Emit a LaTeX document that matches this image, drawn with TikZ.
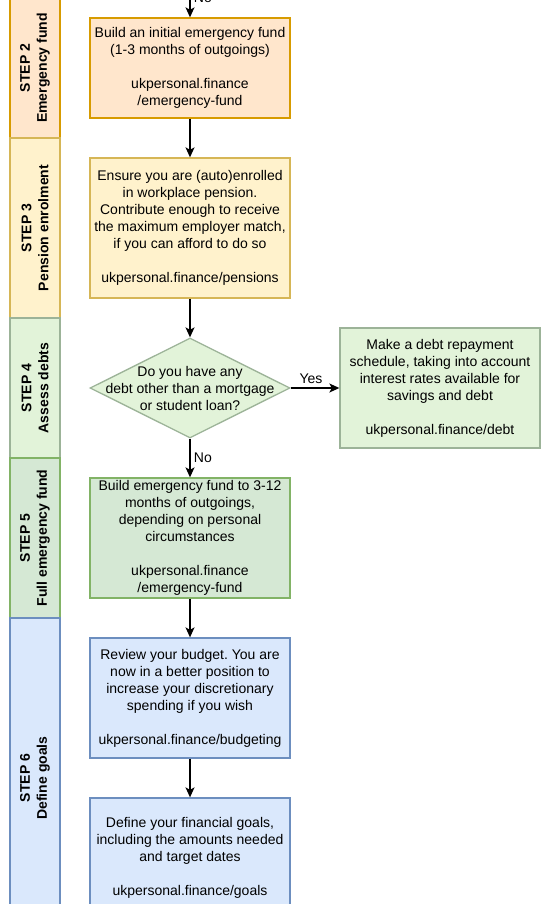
\documentclass[tikz,border=0pt]{standalone}
\usepackage{fontspec}
\setmainfont{Liberation Sans}
\usetikzlibrary{calc, shapes, arrows.meta}
\definecolor{orangeFill}{HTML}{FFE6CC}
\definecolor{orangeLine}{HTML}{D79B00}
\definecolor{yellowFill}{HTML}{FFF2CC}
\definecolor{yellowLine}{HTML}{D6B656}
\definecolor{paleGreenFill}{HTML}{E2F3D9}
\definecolor{paleGreenLine}{HTML}{9CB398}
\definecolor{greenFill}{HTML}{D5E8D4}
\definecolor{greenLine}{HTML}{82B366}
\definecolor{blueFill}{HTML}{DAE8FC}
\definecolor{blueLine}{HTML}{6C8EBF}
\frenchspacing

\begin{document}
\begin{tikzpicture}[x=1pt, y=-1pt,
	every node/.style={font=\fontsize{14}{17}\selectfont},
	box/.style={draw, rectangle, line width=1.3pt, minimum width=200pt, inner sep=0pt, align=center},
	decision/.style={draw, diamond, line width=1.3pt, minimum width=200pt, minimum height=100pt, inner sep=0pt},
	lane/.style={line width=1.3pt},
	lanelabel/.style={rotate=90, align=center, font=\bfseries\fontsize{14}{17}\selectfont},
	flow/.style={line width=1.3pt, -{Stealth[length=10pt, width=9pt, inset=2.5pt]}}]
				\useasboundingbox (0,0) rectangle (559,904);
				\clip (0,0) rectangle (559,904);
				%Lanes on the left
				\draw [lane, fill=orangeFill, draw=orangeLine] (10,-2) rectangle (60,138);
				\draw [lane, fill=yellowFill, draw=yellowLine] (10,138) rectangle (60,318);
				\draw [lane, fill=paleGreenFill, draw=paleGreenLine] (10,318) rectangle (60,458);
				\draw [lane, fill=greenFill, draw=greenLine] (10,458) rectangle (60,618);
				\draw [lane, fill=blueFill, draw=blueLine] (10,618) rectangle (60,938);
				\node [lanelabel] (step2) at (35,68) {STEP 2\\Emergency fund};
				\node [lanelabel] (step3) at (35,228) {STEP 3\\Pension enrolment};
				\node [lanelabel] (step4) at (35,388) {STEP 4\\Assess debts};
				\node [lanelabel] (step5) at (35,538) {STEP 5\\Full emergency fund};
				\node [lanelabel] (step6) at (35,778) {STEP 6\\Define goals};
				%Step 2
				\coordinate (fromAbove) at (190,-22);
				\node [box, fill=orangeFill, draw=orangeLine, minimum height=100pt] (initialFund) at (190,68)
					{Build an initial emergency fund\\(1-3 months of outgoings)\\[17pt]ukpersonal.finance\\/emergency-fund};
				%Step 3
				\node [box, fill=yellowFill, draw=yellowLine, minimum height=140pt] (pension) at (190,228)
					{Ensure you are (auto)enrolled\\in workplace pension.\\Contribute enough to receive\\the maximum employer match,\\if you can afford to do so\\[17pt]ukpersonal.finance/pensions};
				%Step 4
				\node [decision, fill=paleGreenFill, draw=paleGreenLine] (debtQuestion) at (190,388) {};
				\node [align=center] (debtQuestionText) at (debtQuestion.center)
					{Do you have any\\debt other than a mortgage\\or student loan?};
				\node [box, fill=paleGreenFill, draw=paleGreenLine, minimum height=120pt] (debtPlan) at (440,388)
					{Make a debt repayment\\schedule, taking into account\\interest rates available for\\savings and debt\\[17pt]ukpersonal.finance/debt};
				%Step 5
				\node [box, fill=greenFill, draw=greenLine, minimum height=120pt] (fullFund) at (190,538)
					{Build emergency fund to 3-12\\months of outgoings,\\depending on personal\\circumstances\\[17pt]ukpersonal.finance\\/emergency-fund};
				%Step 6
				\node [box, fill=blueFill, draw=blueLine, minimum height=120pt] (budget) at (190,698)
					{Review your budget. You are\\now in a better position to\\increase your discretionary\\spending if you wish\\[17pt]ukpersonal.finance/budgeting};
				\node [box, fill=blueFill, draw=blueLine, minimum height=120pt] (goals) at (190,858)
					{Define your financial goals,\\including the amounts needed\\and target dates\\[17pt]ukpersonal.finance/goals};
				%Connectors
				\draw [flow] (fromAbove) -- node [midway, right] {No} (initialFund.north);
				\draw [flow] (initialFund.south) -- (pension.north);
				\draw [flow] (pension.south) -- (debtQuestion.north);
				\draw [flow] (debtQuestion.east) -- node [midway, above, xshift=-4pt] {Yes} (debtPlan.west);
				\draw [flow] (debtQuestion.south) -- node [midway, right] {No} (fullFund.north);
				\draw [flow] (fullFund.south) -- (budget.north);
				\draw [flow] (budget.south) -- (goals.north);
				\end{tikzpicture}
\end{document}
